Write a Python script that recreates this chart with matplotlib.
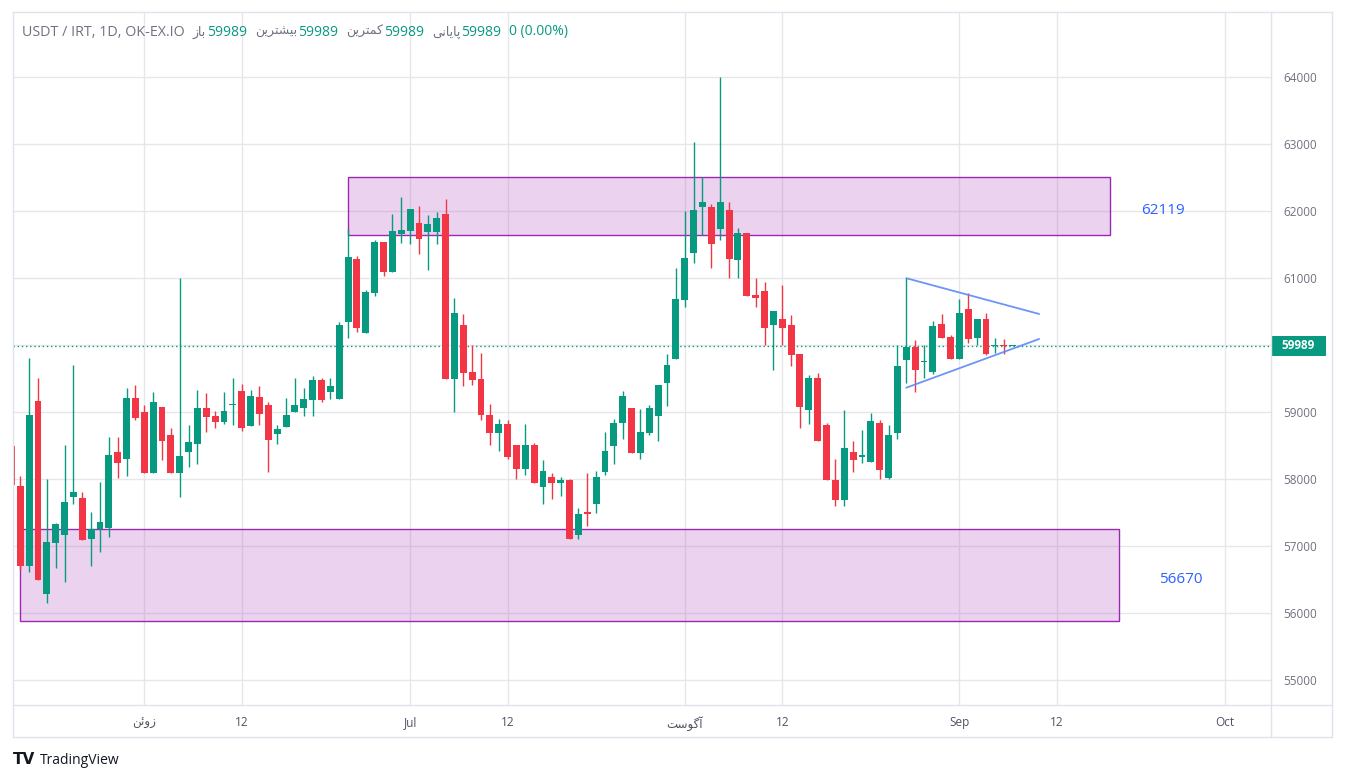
import matplotlib
matplotlib.use("Agg")
import matplotlib.pyplot as plt
from matplotlib.patches import Rectangle
from matplotlib.lines import Line2D
import pandas as pd
import numpy as np

plt.rcParams['font.family'] = ['Open Sans', 'DejaVu Sans']

# ---------------- data ----------------
start_date = "2024-05-17"
opens = [58500, 57900, 56710, 59170, 56290, 57055, 57175, 57740, 57720, 57115,
         57255, 57280, 58410, 58310, 59215, 59005, 58100, 59080, 58660, 58100,
         58400, 58530, 59070, 58945, 58860, 59110, 59320, 58800, 59230, 59110,
         58680, 58785, 59010, 59070, 59190, 59485, 59295, 59205, 60350, 61285,
         60185, 60785, 61540, 61095, 61665, 61710, 61825, 61695, 61695, 61960,
         59500, 60300, 59600, 59495, 58960, 58695, 58825, 58510, 58160, 58510,
         57890, 58035, 57950, 57990, 57175, 57510, 57635, 58115, 58500, 58845,
         59065, 58395, 58695, 58950, 59430, 59800, 60680, 61370, 62055, 62060,
         61740, 62020, 61275, 61675, 60750, 60810, 60305, 60390, 60300, 59865,
         59040, 59510, 58810, 57995, 57695, 58405, 58335, 58260, 58840, 58025,
         58695, 59785, 59970, 59745, 59605, 60315, 60120, 59800, 60540, 60110,
         60390, 59985, 60000, 59989]
highs = [58520, 58050, 59810, 59510, 58000, 57350, 58510, 59705, 57810, 57510,
         57960, 58630, 58630, 59365, 59410, 59110, 59305, 59080, 58765, 61000,
         58810, 59335, 59290, 59020, 59305, 59510, 59425, 59335, 59395, 59155,
         58810, 59215, 59510, 59365, 59540, 59510, 59510, 60350, 61735, 61330,
         60825, 61570, 61540, 61960, 62210, 62030, 62075, 61945, 61990, 62180,
         60705, 60465, 60005, 59885, 59125, 58900, 58885, 58510, 58825, 58540,
         58290, 58095, 58035, 58005, 57570, 58095, 58125, 58705, 58900, 59320,
         59065, 59050, 59110, 59405, 59870, 61155, 62005, 63035, 62510, 62105,
         64000, 62135, 61750, 61675, 61005, 60945, 60510, 60900, 60450, 59865,
         59555, 59585, 58840, 58305, 59035, 58570, 58735, 58990, 58885, 58810,
         60005, 61000, 60075, 60005, 60360, 60465, 60150, 60690, 60780, 60390,
         60480, 60105, 60090, 59989]
lows = [57900, 56650, 56610, 56490, 56160, 56670, 56470, 57625, 57100, 56710,
        56920, 57145, 58025, 58055, 58890, 58100, 58100, 58295, 58100, 57730,
        58190, 58235, 58710, 58770, 58825, 58815, 58725, 58800, 58815, 58115,
        58530, 58785, 59010, 58950, 58950, 59160, 59205, 59205, 60112, 60200,
        60185, 60740, 61035, 61095, 61530, 61515, 61365, 61125, 61515, 59500,
        59010, 59395, 59410, 58880, 58515, 58415, 58310, 58010, 58070, 57950,
        57635, 57710, 57755, 57110, 57110, 57310, 57490, 58070, 58235, 58605,
        58395, 58310, 58665, 58575, 59100, 59800, 60575, 61230, 61650, 61155,
        61575, 61010, 61010, 60740, 60575, 60010, 59635, 60010, 59695, 58770,
        58830, 58575, 57995, 57605, 57605, 58115, 58245, 58260, 58010, 58010,
        58605, 59440, 59305, 59510, 59575, 60110, 59800, 59800, 60035, 60005,
        59855, 59890, 59875, 59989]
closes = [57915, 56700, 58960, 56490, 57065, 57330, 57660, 57810, 57100, 57255,
          57365, 58365, 58250, 59215, 58920, 58100, 59155, 58575, 58100, 58340,
          58555, 59070, 58935, 58860, 59020, 59120, 58770, 59245, 58980, 58590,
          58750, 58960, 59110, 59200, 59485, 59190, 59395, 60305, 61315, 60260,
          60795, 61540, 61095, 61705, 61720, 62030, 61590, 61810, 61900, 59500,
          60480, 59590, 59485, 58965, 58695, 58825, 58325, 58160, 58510, 57950,
          58125, 57950, 57990, 57115, 57485, 57475, 58035, 58420, 58840, 59245,
          58395, 58705, 59065, 59405, 59705, 60690, 61300, 62020, 62135, 61515,
          62135, 61290, 61675, 60740, 60710, 60260, 60510, 60260, 59860, 59080,
          59510, 58575, 57995, 57695, 58465, 58290, 58360, 58870, 58145, 58660,
          59690, 59970, 59635, 59765, 60285, 60110, 59800, 60480, 60095, 60390,
          59875, 59995, 59990, 59989]
last_price = 59989

# zones: (start date, end date, low price, high price, label)
zone_starts = ["2024-06-24", "2024-05-18"]
zone_ends = ["2024-09-18", "2024-09-19"]
zone_lows = [61640, 55880]
zone_highs = [62514, 57255]
zone_labels = ["62119", "56670"]
zone_label_dates = ["2024-09-24", "2024-09-26"]
zone_label_prices = [62015, 56500]

# triangle lines (date, price)
tri_dates = ["2024-08-26", "2024-09-10"]
tri_upper = [61000, 60466]
tri_lower = [59366, 60093]

tick_dates = ["2024-06-01", "2024-06-12", "2024-07-01", "2024-07-12", "2024-08-01",
              "2024-08-12", "2024-09-01", "2024-09-12", "2024-10-01"]
tick_labels = ["زوئن", "12", "Jul", "12", "آگوست", "12", "Sep", "12", "Oct"]
price_ticks = list(range(55000, 64001, 1000))

header_pairs = [("باز", "59989"), ("بیشترین", "59989"), ("کمترین", "59989"), ("پایانی", "59989")]
header_change = "0 (0.00%)"
symbol_text = "USDT / IRT, 1D, OK-EX.IO"

# ---------------- Persian shaping ----------------
FORMS = {
    'ا': ('\uFE8D', '\uFE8E', None, None),
    'آ': ('\uFE81', '\uFE82', None, None),
    'ب': ('\uFE8F', '\uFE90', '\uFE91', '\uFE92'),
    'پ': ('\uFB56', '\uFB57', '\uFB58', '\uFB59'),
    'ت': ('\uFE95', '\uFE96', '\uFE97', '\uFE98'),
    'ز': ('\uFEAF', '\uFEB0', None, None),
    'ر': ('\uFEAD', '\uFEAE', None, None),
    'س': ('\uFEB1', '\uFEB2', '\uFEB3', '\uFEB4'),
    'ش': ('\uFEB5', '\uFEB6', '\uFEB7', '\uFEB8'),
    'ک': ('\uFB8E', '\uFB8F', '\uFB90', '\uFB91'),
    'گ': ('\uFB92', '\uFB93', '\uFB94', '\uFB95'),
    'م': ('\uFEE1', '\uFEE2', '\uFEE3', '\uFEE4'),
    'ن': ('\uFEE5', '\uFEE6', '\uFEE7', '\uFEE8'),
    'و': ('\uFEED', '\uFEEE', None, None),
    'ی': ('\uFBFC', '\uFBFD', '\uFBFE', '\uFBFF'),
    'ئ': ('\uFE89', '\uFE8A', '\uFE8B', '\uFE8C'),
}


def shape(word):
    if not any(c in FORMS for c in word):
        return word
    out = []
    for i, c in enumerate(word):
        f = FORMS.get(c)
        if f is None:
            out.append(c)
            continue
        prev = word[i - 1] if i > 0 else None
        nxt = word[i + 1] if i + 1 < len(word) else None
        jp = (prev in FORMS and FORMS[prev][2] is not None) if prev else False
        jn = (nxt in FORMS and f[2] is not None) if nxt else False
        if jp and jn:
            out.append(f[3])
        elif jp:
            out.append(f[1])
        elif jn:
            out.append(f[2])
        else:
            out.append(f[0])
    return ''.join(reversed(out))


# ---------------- geometry ----------------
W, H = 1345, 782
ORIGIN = pd.Timestamp("2024-06-01")


def dnum(s):
    return (pd.Timestamp(s) - ORIGIN).days


dates = pd.date_range(start_date, periods=len(opens), freq="D")
xs = np.array([(d - ORIGIN).days for d in dates])

GREEN = "#089981"
RED = "#F23645"
GRID = "#e6e7eb"
BORDER = "#e0e3eb"
TXT = "#6f7280"

fig = plt.figure(figsize=(W / 100, H / 100), dpi=100)
fig.patch.set_facecolor("white")

px_left, px_right, px_top, px_bottom = 13, 1270.7, 12, 705
ax = fig.add_axes([px_left / W, 1 - px_bottom / H, (px_right - px_left) / W, (px_bottom - px_top) / H])
ax.set_facecolor("white")

ppd = 8.86
x_at_jun1 = 144.3
ax.set_xlim((px_left - x_at_jun1) / ppd, (px_right - x_at_jun1) / ppd)
ppp = 67.03 / 1000.0
y64 = 77.1
ax.set_ylim(64000 - (px_bottom - y64) / ppp, 64000 + (y64 - px_top) / ppp)

# grid
tick_x = [dnum(t) for t in tick_dates]
for tx in tick_x:
    ax.axvline(tx, color=GRID, lw=1, zorder=0)
for p in price_ticks:
    ax.axhline(p, color=GRID, lw=1, zorder=0)

# zones
for s, e, lo, hi in zip(zone_starts, zone_ends, zone_lows, zone_highs):
    ax.add_patch(Rectangle((dnum(s), lo), dnum(e) - dnum(s), hi - lo,
                           facecolor="#9c27b0", alpha=0.2, edgecolor="none", zorder=1))
    ax.add_patch(Rectangle((dnum(s), lo), dnum(e) - dnum(s), hi - lo,
                           facecolor="none", edgecolor="#9c27b0", lw=1.0, zorder=1.1))
for lbl, ld, lp in zip(zone_labels, zone_label_dates, zone_label_prices):
    ax.text(dnum(ld), lp, lbl, color="#2962ff", fontsize=11, ha="center", va="center", zorder=5)

# last price dotted line
ax.axhline(last_price, color=GREEN, lw=1, ls=(0, (1, 2)), zorder=2)

# candles
opens_a = np.array(opens, float)
closes_a = np.array(closes, float)
highs_a = np.array(highs, float)
lows_a = np.array(lows, float)
colors = np.where(closes_a >= opens_a, GREEN, RED)
ax.vlines(xs, lows_a, highs_a, colors=colors, lw=1.0, zorder=3)
bottoms = np.minimum(opens_a, closes_a)
heights = np.maximum(np.abs(closes_a - opens_a), 16)
ax.bar(xs, heights, bottom=bottoms, width=0.78, color=colors, edgecolor="none", zorder=4)

# triangle
t0, t1 = dnum(tri_dates[0]), dnum(tri_dates[1])
ax.plot([t0, t1], tri_upper, color="#5b8af7", lw=1.3, alpha=0.9, zorder=5, solid_capstyle="round")
ax.plot([t0, t1], tri_lower, color="#5b8af7", lw=1.3, alpha=0.9, zorder=5, solid_capstyle="round")

# axes ticks
ax.set_xticks(tick_x)
ax.set_xticklabels([shape(t) for t in tick_labels], color="#50535e", fontsize=8.5)
ax.tick_params(axis="x", length=0, pad=8)
ax.yaxis.tick_right()
ax.set_yticks(price_ticks)
ax.set_yticklabels([str(p) for p in price_ticks], color=TXT, fontsize=8.5)
ax.tick_params(axis="y", length=0, pad=9)
for sp in ax.spines.values():
    sp.set_visible(False)


def fx(x):
    return x / W


def fy(y):
    return 1 - y / H


frame_right, frame_bottom = 1332, 737
for (x0, y0, x1, y1) in [(px_left, px_top, frame_right, px_top),
                         (px_left, px_top, px_left, frame_bottom),
                         (frame_right, px_top, frame_right, frame_bottom),
                         (px_left, frame_bottom, frame_right, frame_bottom),
                         (px_left, px_bottom, frame_right, px_bottom),
                         (px_right, px_top, px_right, frame_bottom)]:
    fig.add_artist(Line2D([fx(x0), fx(x1)], [fy(y0), fy(y1)], color=BORDER, lw=1))

# last price label on axis
yb = y64 + (64000 - last_price) * ppp
fig.add_artist(Rectangle((fx(1271), fy(yb + 10)), (1326 - 1271) / W, 20 / H,
                         facecolor=GREEN, edgecolor="none", transform=fig.transFigure))
fig.text(fx(1298.5), fy(yb), str(last_price), color="white", fontsize=8.5,
         ha="center", va="center", fontweight="bold")

# header (chained left to right)
renderer = fig.canvas.get_renderer()
hy = fy(32)
pieces = [(symbol_text, TXT, 10.3, 0)]
for lab, val in header_pairs:
    pieces.append((shape(lab), TXT, 9.0, 8))
    pieces.append((val, GREEN, 10.0, 1))
pieces.append((header_change, GREEN, 10.0, 8))
cx = 22
for txt, col, fs, gap in pieces:
    cx += gap
    t = fig.text(fx(cx), hy, txt, color=col, fontsize=fs, va="center")
    bb = t.get_window_extent(renderer)
    cx = bb.x1

# TradingView logo
fig.text(fx(13), fy(760), "TV", color="#131722", fontsize=11, fontweight="bold", va="center",
         family="DejaVu Sans")
fig.text(fx(40), fy(760), "TradingView", color="#131722", fontsize=10, va="center")

fig.savefig("out.png", dpi=100, facecolor="white")
